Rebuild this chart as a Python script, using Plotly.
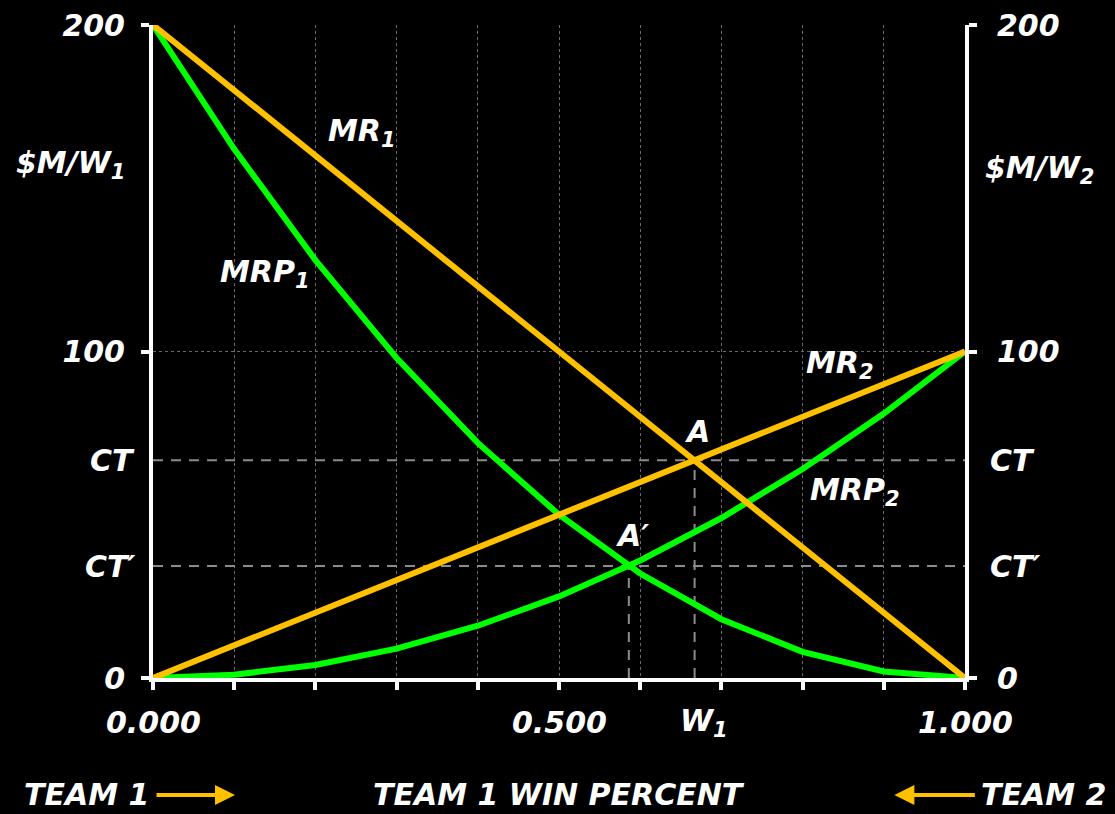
import plotly.graph_objects as go

# ---- data ----
w = [0.0, 0.1, 0.2, 0.3, 0.4, 0.5, 0.6, 0.7, 0.8, 0.9, 1.0]
mr1 = [200, 180, 160, 140, 120, 100, 80, 60, 40, 20, 0]
mr2 = [0, 10, 20, 30, 40, 50, 60, 70, 80, 90, 100]
mrp1 = [200, 162, 128, 98, 72, 50, 32, 18, 8, 2, 0]
mrp2 = [0, 1, 4, 9, 16, 25, 36, 49, 64, 81, 100]

ct_value = 66.7
ct_prime_value = 34.3
w_ct = 0.667
w_ct_prime = 0.586

y_tickvals = [0, 100, 200]
y_ticktext = ["0", "100", "200"]
x_tickvals = [0.0, 0.1, 0.2, 0.3, 0.4, 0.5, 0.6, 0.7, 0.8, 0.9, 1.0]
x_labels = [(0.0, "0.000"), (0.5, "0.500"), (w_ct, "W<sub>1</sub>"), (1.0, "1.000")]

ORANGE = "#FFC000"
GREEN = "#00FF00"
WHITE = "#FFFFFF"
GRAY = "#8C8C8C"
FONT = dict(family="DejaVu Sans", size=30, color=WHITE, weight="bold", style="italic")

fig = go.Figure()

# dashed guide lines (drawn first, under curves)
for val, wv in [(ct_value, w_ct), (ct_prime_value, w_ct_prime)]:
    fig.add_trace(go.Scatter(x=[0, 1], y=[val, val], mode="lines",
                             line=dict(color=GRAY, width=2, dash="10px,8px"),
                             hoverinfo="skip", showlegend=False))
    fig.add_trace(go.Scatter(x=[wv, wv], y=[0, val], mode="lines",
                             line=dict(color=GRAY, width=2, dash="10px,8px"),
                             hoverinfo="skip", showlegend=False))

for ys, col in [(mrp1, GREEN), (mrp2, GREEN), (mr1, ORANGE), (mr2, ORANGE)]:
    fig.add_trace(go.Scatter(x=w, y=ys, mode="lines", line=dict(color=col, width=6),
                             cliponaxis=False, showlegend=False))

# invisible trace for right axis
fig.add_trace(go.Scatter(x=[0], y=[0], yaxis="y2", mode="markers",
                         marker=dict(opacity=0), showlegend=False, hoverinfo="skip"))

axis_common = dict(showline=True, linecolor=WHITE, linewidth=4, ticks="outside",
                   tickcolor=WHITE, tickwidth=4, ticklen=8, zeroline=False,
                   layer="below traces", tickfont=FONT, ticklabeloverflow="allow",
                   automargin=False)

fig.update_layout(
    width=1115, height=814,
    margin=dict(l=153, r=150, t=25, b=136, autoexpand=False),
    paper_bgcolor="black", plot_bgcolor="black",
    xaxis=dict(range=[0, 1], tickvals=x_tickvals, ticktext=[""] * len(x_tickvals),
               showgrid=True, gridcolor="#6A6A6A", griddash="dot", gridwidth=1,
               **axis_common),
    yaxis=dict(range=[0, 200], tickvals=y_tickvals, ticktext=y_ticktext,
               showgrid=True, gridcolor="#6A6A6A", griddash="dot", gridwidth=1,
               ticklabelstandoff=10, **axis_common),
    yaxis2=dict(range=[0, 200], tickvals=y_tickvals, ticktext=y_ticktext,
                overlaying="y", side="right", showgrid=False,
                ticklabelstandoff=14, **axis_common),
)

ann = []
def add(text, x, y, xref="x", yref="y", xanchor="center"):
    ann.append(dict(text=text, x=x, y=y, xref=xref, yref=yref, showarrow=False,
                    xanchor=xanchor, yanchor="middle", font=dict(FONT)))

# curve labels
add("MR<sub>1</sub>", 0.257, 167)
add("MRP<sub>1</sub>", 0.138, 124)
add("MR<sub>2</sub>", 0.846, 96)
add("MRP<sub>2</sub>", 0.865, 57)
add("A", 0.671, 75.5)
add("A\u2032", 0.59, 43.5)

# axis titles
add("$M/W<sub>1</sub>", -0.102, 0.786, xref="paper", yref="paper")
add("$M/W<sub>2</sub>", 1.092, 0.778, xref="paper", yref="paper")

# CT labels
for lbl, val in [("CT", ct_value), ("CT\u2032", ct_prime_value)]:
    add(lbl, -0.02, val, xref="paper", xanchor="right")
    add(lbl, 1.028, val, xref="paper", xanchor="left")

# x labels
for xv, t in x_labels:
    add(t, xv + (0.012 if t.startswith("W") else 0), -0.068, yref="paper")

# bottom line
add("TEAM 1", -0.161, -0.179, xref="paper", yref="paper", xanchor="left")
add("TEAM 1 WIN PERCENT", 0.5, -0.179, xref="paper", yref="paper")
add("TEAM 2", 1.176, -0.179, xref="paper", yref="paper", xanchor="right")

fig.update_layout(annotations=ann)

# arrows
fig.add_annotation(x=0.101, y=-0.179, xref="paper", yref="paper", ax=-80, ay=0,
                   showarrow=True, arrowhead=2, arrowsize=1, arrowwidth=4,
                   arrowcolor=ORANGE, text="")
fig.add_annotation(x=0.913, y=-0.179, xref="paper", yref="paper", ax=82, ay=0,
                   showarrow=True, arrowhead=2, arrowsize=1, arrowwidth=4,
                   arrowcolor=ORANGE, text="")

fig.write_html(
    "out.html",
    config={"displayModeBar": False},
    post_script="document.body.style.margin='0';"
                "document.body.style.background='black';"
                "document.body.style.overflow='hidden';",
)
